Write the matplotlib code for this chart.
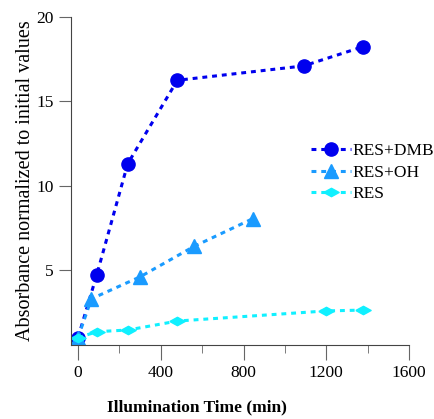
import matplotlib
matplotlib.use("Agg")
import matplotlib.pyplot as plt
from matplotlib.ticker import MultipleLocator

# illumination time (min) and normalized absorbance
t_dmb = [0, 90, 240, 480, 1090, 1380]
a_dmb = [1.0, 4.7, 11.3, 16.25, 17.1, 18.25]

t_oh = [0, 65, 300, 560, 845]
a_oh = [1.0, 3.3, 4.6, 6.4, 8.05]

t_res = [0, 93, 242, 480, 1200, 1380]
a_res = [1.0, 1.35, 1.45, 1.98, 2.58, 2.63]

plt.rcParams['font.family'] = ['Liberation Serif', 'DejaVu Serif']

fig = plt.figure(figsize=(4.34, 4.19), dpi=100)
ax = fig.add_axes([0.1636, 0.1766, 0.9424 - 0.1636, 0.9594 - 0.1766])

# flat diamond marker
flat_diamond = [(-1, 0), (0, 0.55), (1, 0), (0, -0.55), (-1, 0)]

ax.plot(t_dmb, a_dmb, color='#0000ee', linestyle=(0, (1.6, 1.6)), linewidth=2.2,
        marker='o', markersize=9.5, label='RES+DMB')
ax.plot(t_oh, a_oh, color='#1a9bff', linestyle=(0, (1.6, 1.6)), linewidth=2.2,
        marker='^', markersize=9.5, label='RES+OH')
ax.plot(t_res, a_res, color='#10f0ff', linestyle=(0, (1.6, 1.6)), linewidth=2.2,
        marker=flat_diamond, markersize=11, label='RES')

ax.set_xlim(-34, 1600)
ax.set_ylim(0.56, 20)
ax.xaxis.set_major_locator(MultipleLocator(400))
ax.xaxis.set_minor_locator(MultipleLocator(200))
ax.set_yticks([5, 10, 15, 20])

for side in ['top', 'right']:
    ax.spines[side].set_visible(False)
ax.spines['left'].set_color('#444444')
ax.spines['bottom'].set_color('#444444')
ax.tick_params(axis='both', which='major', labelsize=12.5, color='#666666')
ax.tick_params(axis='x', which='major', length=11)
ax.tick_params(axis='x', which='minor', length=6, color='#666666')
ax.tick_params(axis='y', length=9)

ax.set_xlabel('Illumination Time (min)', fontsize=12.5, fontweight='bold')
ax.xaxis.set_label_coords(0.373, -0.165)
ax.set_ylabel('Absorbance normalized to initial values', fontsize=14.5, labelpad=1)

ax.legend(loc='upper left', bbox_to_anchor=(0.71, 0.615), frameon=False, fontsize=12.5,
          handlelength=2.3, handletextpad=0.1, labelspacing=0.3, borderaxespad=0,
          borderpad=0)

plt.savefig('out.png', dpi=100)
